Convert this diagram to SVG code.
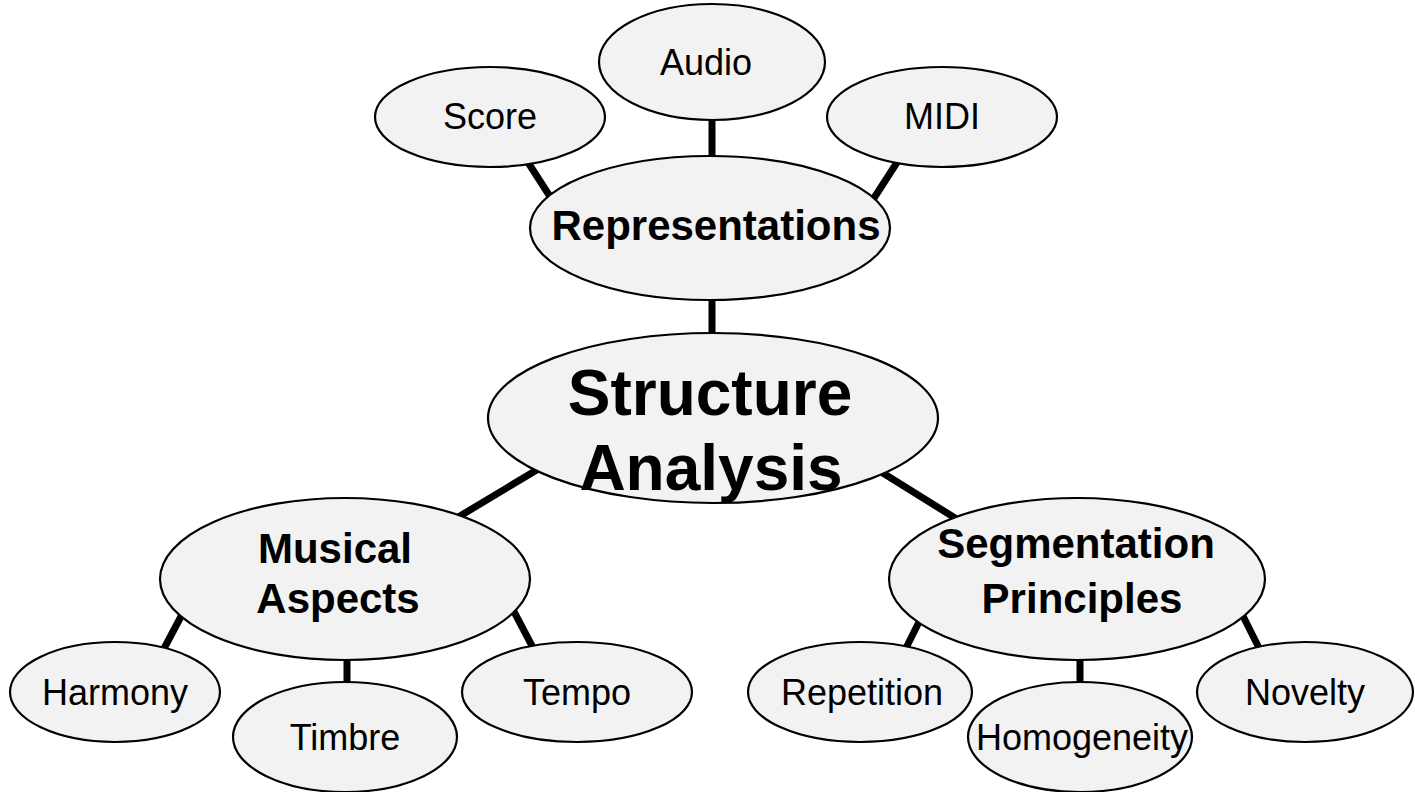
<svg xmlns="http://www.w3.org/2000/svg" width="1415" height="792" viewBox="0 0 1415 792">
<style>
.n ellipse{fill:#f2f2f2;stroke:#000;stroke-width:2.2}
.n text{font-family:"Liberation Sans",Arial,sans-serif;fill:#000;text-anchor:middle}
.r{font-size:36px}
.b{font-size:42px;font-weight:bold}
.t{font-size:64px;font-weight:bold}
#edges line{stroke:#000;stroke-width:7}
</style>
<rect width="1415" height="792" fill="#fff"/>
<g id="edges">
<line x1="520" y1="150" x2="560" y2="212"/>
<line x1="712" y1="100" x2="712" y2="180"/>
<line x1="905" y1="150" x2="865" y2="212"/>
<line x1="712" y1="280" x2="712" y2="360"/>
<line x1="540" y1="468" x2="450" y2="522"/>
<line x1="870" y1="465" x2="1000" y2="546"/>
<line x1="195" y1="590" x2="150" y2="675"/>
<line x1="347" y1="640" x2="347" y2="710"/>
<line x1="500" y1="585" x2="550" y2="680"/>
<line x1="935" y1="590" x2="885" y2="690"/>
<line x1="1080" y1="640" x2="1080" y2="710"/>
<line x1="1230" y1="590" x2="1280" y2="690"/>
</g>
<g id="score" class="n"><ellipse cx="490" cy="117" rx="115" ry="50"/><text class="r" x="490" y="129">Score</text></g>
<g id="audio" class="n"><ellipse cx="712" cy="62" rx="113" ry="58"/><text class="r" x="706" y="75">Audio</text></g>
<g id="midi" class="n"><ellipse cx="942" cy="117" rx="115" ry="50"/><text class="r" x="942" y="129">MIDI</text></g>
<g id="representations" class="n"><ellipse cx="710" cy="228" rx="180" ry="72"/><text class="b" x="716" y="240">Representations</text></g>
<g id="structure" class="n"><ellipse cx="713" cy="418" rx="225" ry="85"/><text class="t" x="710" y="415">Structure</text><text class="t" x="711" y="490">Analysis</text></g>
<g id="musical" class="n"><ellipse cx="345" cy="579" rx="185" ry="81"/><text class="b" x="335" y="563">Musical</text><text class="b" x="338" y="613">Aspects</text></g>
<g id="segmentation" class="n"><ellipse cx="1077" cy="579" rx="188" ry="81"/><text class="b" x="1076" y="558">Segmentation</text><text class="b" x="1082" y="613">Principles</text></g>
<g id="harmony" class="n"><ellipse cx="115" cy="692" rx="105" ry="50"/><text class="r" x="115" y="705">Harmony</text></g>
<g id="timbre" class="n"><ellipse cx="345" cy="737" rx="112" ry="55"/><text class="r" x="345" y="750">Timbre</text></g>
<g id="tempo" class="n"><ellipse cx="577" cy="692" rx="115" ry="50"/><text class="r" x="577" y="705">Tempo</text></g>
<g id="repetition" class="n"><ellipse cx="860" cy="692" rx="112" ry="50"/><text class="r" x="862" y="705">Repetition</text></g>
<g id="homogeneity" class="n"><ellipse cx="1080" cy="737" rx="112" ry="55"/><text class="r" x="1082" y="750">Homogeneity</text></g>
<g id="novelty" class="n"><ellipse cx="1305" cy="692" rx="108" ry="50"/><text class="r" x="1305" y="705">Novelty</text></g>
</svg>
